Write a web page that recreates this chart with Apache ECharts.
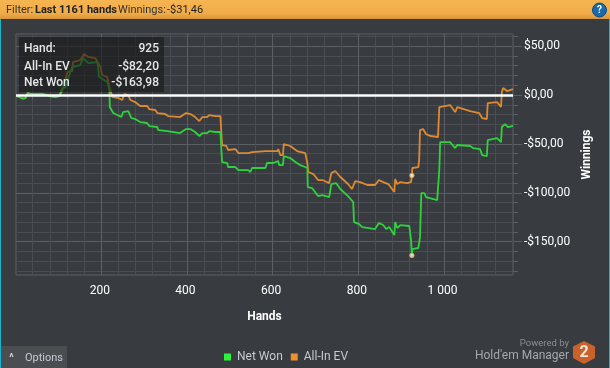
<!DOCTYPE html>
<html><head><meta charset="utf-8">
<style>html,body{margin:0;padding:0;background:#383c40}#c{width:610px;height:368px}</style>
<script src="https://cdn.jsdelivr.net/npm/echarts@6/dist/echarts.min.js"></script>
</head><body><div id="c"></div>
<script>
const seriesNames = ['Net Won','All-In EV'];
const xMajor = [200,400,600,800,1000];
const xMinor = [40,80,120,160,240,280,320,360,440,480,520,560,640,680,720,760,840,880,920,960,1040,1080,1120,1160];
const yMajor = [-150,-100,-50,0,50];
const yMinor = [-180,-170,-160,-140,-130,-120,-110,-90,-80,-70,-60,-40,-30,-20,-10,10,20,30,40,60];
const netWonHands = [2,9,16,23,28,32,37,51,62,74,81,93,102,107,111,116,123,132,151,158,170,191,195,214,219,220,228,247,251,263,270,279,291,307,312,331,333,354,384,398,408,419,429,436,447,452,466,478,480,482,494,496,513,520,543,548,552,583,587,601,613,615,624,626,641,653,664,676,681,682,692,706,716,732,737,748,758,776,788,790,802,809,839,848,858,865,872,884,886,891,898,919,923,925,926,940,944,947,954,958,984,986,989,991,1014,1026,1031,1061,1068,1084,1089,1100,1102,1124,1133,1135,1142,1149,1161];
const netWonValues = [-1,-2,-3.6,-3.1,2,3.1,1,1,1,0,-1,-2,-1,5.1,8.2,7.2,17.4,28.6,30.7,37.8,32.7,33.7,18.4,13.3,5.1,-12.3,-18.4,-22.5,-17.4,-16.4,-23.5,-24.5,-27.6,-28.6,-31.7,-32.7,-35.8,-36.8,-38.9,-34.8,-34.8,-37.8,-41.9,-38.9,-38.9,-36.8,-37.8,-37.8,-38.9,-68.5,-69.5,-73.6,-73.6,-76.7,-76.7,-78.7,-74.6,-74.6,-69.5,-69.5,-67.5,-71.6,-71.6,-62.4,-64.4,-68.5,-71.6,-73.6,-74.6,-94.1,-95.1,-103.3,-102.3,-104.3,-91,-90,-96.1,-103.3,-109.4,-129.9,-131.9,-135,-137,-130.9,-132.9,-137,-135,-143.2,-129.9,-136,-132.9,-133.9,-148.3,-163.98,-157.5,-156.4,-145.2,-100.2,-100.2,-104.3,-107.4,-108.4,-76.7,-48.1,-48.1,-54.2,-51.1,-52.1,-54.2,-55.2,-61.4,-62.4,-46,-44,-48.1,-32.7,-29.7,-32.7,-31.46];
const allInHands = [2,9,16,23,28,32,37,51,62,74,81,93,102,107,111,116,121,132,134,151,160,170,186,198,202,214,219,226,240,249,254,263,268,279,291,307,312,326,331,349,356,384,398,408,419,429,436,447,452,466,478,480,482,492,496,513,520,543,552,583,611,613,618,624,626,641,657,676,681,683,695,706,716,732,737,746,758,776,785,793,804,821,839,848,858,870,884,886,891,898,914,923,925,926,940,942,944,951,958,968,986,989,1014,1026,1031,1061,1082,1089,1100,1102,1124,1133,1135,1138,1147,1161];
const allInValues = [-1,-2,-3.6,-3.1,2,3.1,1,1,1,0,-1,-2,-1,3,7,15.3,23.5,24.5,33.7,35.8,41.9,38.9,37.8,28.6,20.5,18.4,8.2,-2,-3.1,-5.1,1,0,-5.1,-7.2,-11.2,-11.2,-14.3,-15.3,-18.4,-19.4,-21.5,-22.5,-18.4,-19.4,-22.5,-26.6,-22.5,-22.5,-20.5,-21.5,-21.5,-23.5,-51.1,-52.1,-56.2,-55.2,-59.3,-59.3,-58.3,-57.3,-57.3,-55.2,-61.4,-61.4,-50.1,-52.1,-57.3,-59.3,-69.5,-78.7,-80.8,-86.9,-86.9,-90,-79.8,-77.7,-83.8,-91,-96.1,-87.9,-89,-92,-92,-86.9,-89,-91,-99.2,-85.9,-91,-89,-90,-89,-82.2,-74.6,-73.6,-66.5,-35.8,-34.8,-39.9,-41.9,-42.9,-12.3,-10.2,-17.4,-12.3,-16.4,-18.4,-23.5,-24.5,-8.2,-7.2,-12.3,3.1,7.2,4.1,6.1];
const hoverHand = 925;
const hoverAllIn = -82.20;
const hoverNetWon = -163.98;
const tooltipRows = [['Hand:','925'],['All-In EV','-$82,20'],['Net Won','-$163,98']];

const FONT = 'Roboto,"Noto Sans",sans-serif';
const zip = (a,b)=>a.map((v,i)=>[v,b[i]]);
const fmtY = v => (v<0?'-':'')+'$'+Math.abs(v)+',00';
const fmtX = v => v>=1000 ? String(v).replace(/(\d)(\d{3})$/,'$1 $2') : String(v);

const chart = echarts.init(document.getElementById('c'),null,{renderer:'canvas'});
const base = {type:'value',axisLine:{show:false}};
const minorLine = {lineStyle:{color:'#4a4e52',width:1}};
const majorLine = {lineStyle:{color:'#5c6064',width:1}};
const grid = {left:16,top:34,width:497,height:241,show:true,borderColor:'#5c6064',borderWidth:1,backgroundColor:'transparent'};

const graphics = [
 {type:'rect',shape:{x:0,y:0,width:610,height:19},style:{fill:new echarts.graphic.LinearGradient(0,0,0,1,[{offset:0,color:'#f7b552'},{offset:.7,color:'#f0ac48'},{offset:1,color:'#d9953a'}])},z:50},
 {type:'rect',shape:{x:0,y:19,width:1,height:349},style:{fill:'#12b5cb'},z:50},
 {type:'rect',shape:{x:609,y:19,width:1,height:349},style:{fill:'#12b5cb'},z:50},
 {type:'text',x:6,y:10,style:{text:'Filter:',font:'11px '+FONT,fill:'#333',textVerticalAlign:'middle'},z:51},
 {type:'text',x:35,y:10,style:{text:'Last 1161 hands',font:'bold 11px '+FONT,fill:'#222',textVerticalAlign:'middle'},z:51},
 {type:'text',x:118,y:10,style:{text:'Winnings:',font:'11px '+FONT,fill:'#333',textVerticalAlign:'middle'},z:51},
 {type:'text',x:167,y:10,style:{text:'-$31,46',font:'11px '+FONT,fill:'#222',textVerticalAlign:'middle'},z:51},
 {type:'circle',shape:{cx:599.5,cy:10,r:7},style:{fill:'#1b69ab',stroke:'#0e4a80',lineWidth:1},z:51},
 {type:'text',x:599.5,y:10,style:{text:'?',font:'bold 10px '+FONT,fill:'#fff',textAlign:'center',textVerticalAlign:'middle'},z:52},
 {type:'rect',shape:{x:19,y:37,width:145,height:55},style:{fill:'rgba(24,24,24,0.62)'},z:60},
 {type:'rect',shape:{x:1,y:346,width:66,height:22},style:{fill:'#4b4e51'},z:50},
 {type:'text',x:11.5,y:358,style:{text:'^',font:'bold 10px '+FONT,fill:'#d8dcdf',textAlign:'center',textVerticalAlign:'middle'},z:51},
 {type:'text',x:25,y:358,style:{text:'Options',font:'11px '+FONT,fill:'#c4cbd2',textVerticalAlign:'middle'},z:51},
 {type:'text',x:569,y:344,style:{text:'Powered by',font:'9.5px '+FONT,fill:'#8a8f94',textAlign:'right',textVerticalAlign:'middle'},z:51},
 {type:'text',x:569,y:356,style:{text:"Hold'em Manager",font:'12px '+FONT,fill:'#a3a8ad',textAlign:'right',textVerticalAlign:'middle'},z:51},
 {type:'polygon',shape:{points:[[584,341],[595,346.5],[595,358],[584,364],[573,358],[573,346.5]]},style:{fill:'#c8622a'},z:51},
 {type:'text',x:584,y:353,style:{text:'2',font:'bold 16px '+FONT,fill:'#efe6dd',textAlign:'center',textVerticalAlign:'middle'},z:52}
];
tooltipRows.forEach((r,i)=>{
  const y=[49,67,83][i];
  graphics.push({type:'text',x:24,y,style:{text:r[0],font:'500 12px '+FONT,fill:'#e4e7ea',textVerticalAlign:'middle'},z:61});
  graphics.push({type:'text',x:159,y,style:{text:r[1],font:'500 12px '+FONT,fill:'#e4e7ea',textAlign:'right',textVerticalAlign:'middle'},z:61});
});

chart.setOption({
 animation:false,
 backgroundColor:'#383c40',
 textStyle:{fontFamily:FONT},
 grid,
 legend:{data:seriesNames,left:224,top:351,padding:0,icon:'rect',itemWidth:7,itemHeight:7,itemGap:8,
   textStyle:{color:'#c4cbd2',fontSize:12,fontFamily:FONT,padding:[0,0,0,1]}},
 xAxis:[
  {...base,position:'bottom',min:1,max:1161,axisLabel:{show:false,customValues:xMinor},axisTick:{length:4,customValues:xMinor,lineStyle:{color:'#5c6064'}},splitLine:{show:true,...minorLine}},
  {...base,position:'bottom',min:1,max:1161,name:'Hands',nameLocation:'middle',nameGap:36,
   nameTextStyle:{color:'#fff',fontWeight:'bold',fontSize:12,fontFamily:FONT},
   axisLabel:{color:'#fff',fontSize:12,margin:10,padding:[0,3,0,0],customValues:xMajor,formatter:fmtX,fontFamily:FONT},
   axisTick:{length:8,customValues:xMajor,lineStyle:{color:'#5c6064'}},splitLine:{show:true,...majorLine}}
 ],
 yAxis:[
  {...base,position:'right',min:-184,max:62.4,axisLabel:{show:false,customValues:yMinor},axisTick:{length:5,customValues:yMinor,lineStyle:{color:'#5c6064'}},splitLine:{show:true,...minorLine}},
  {...base,position:'right',min:-184,max:62.4,name:'Winnings',nameLocation:'middle',nameRotate:90,nameGap:66,
   nameTextStyle:{color:'#fff',fontWeight:'bold',fontSize:12,fontFamily:FONT},
   axisLabel:{color:'#fff',fontSize:12,margin:11,padding:[5,0,0,0],customValues:yMajor,formatter:fmtY,fontFamily:FONT},
   axisTick:{length:9,customValues:yMajor,lineStyle:{color:'#5c6064'}},splitLine:{show:true,...majorLine}}
 ],
 series:[
  {name:'All-In EV',type:'line',xAxisIndex:1,yAxisIndex:1,data:zip(allInHands,allInValues),symbol:'none',z:3,
   lineStyle:{color:'#dd8a33',width:1.8},itemStyle:{color:'#f08f30'}},
  {name:'Net Won',type:'line',xAxisIndex:1,yAxisIndex:1,data:zip(netWonHands,netWonValues),symbol:'none',z:4,
   lineStyle:{color:'#2ed23c',width:1.8},itemStyle:{color:'#2ff03f'},
   markLine:{silent:true,symbol:'none',label:{show:false},lineStyle:{color:'#ffffff',width:2.5,type:'solid'},data:[{yAxis:0}],z:5}},
  {name:'Hover',type:'scatter',xAxisIndex:1,yAxisIndex:1,data:[[hoverHand,hoverAllIn],[hoverHand,hoverNetWon]],symbolSize:4.5,z:6,
   itemStyle:{color:'#fff2dc',borderColor:'#f0a040',borderWidth:1}}
 ],
 graphic:graphics
});
</script></body></html>
